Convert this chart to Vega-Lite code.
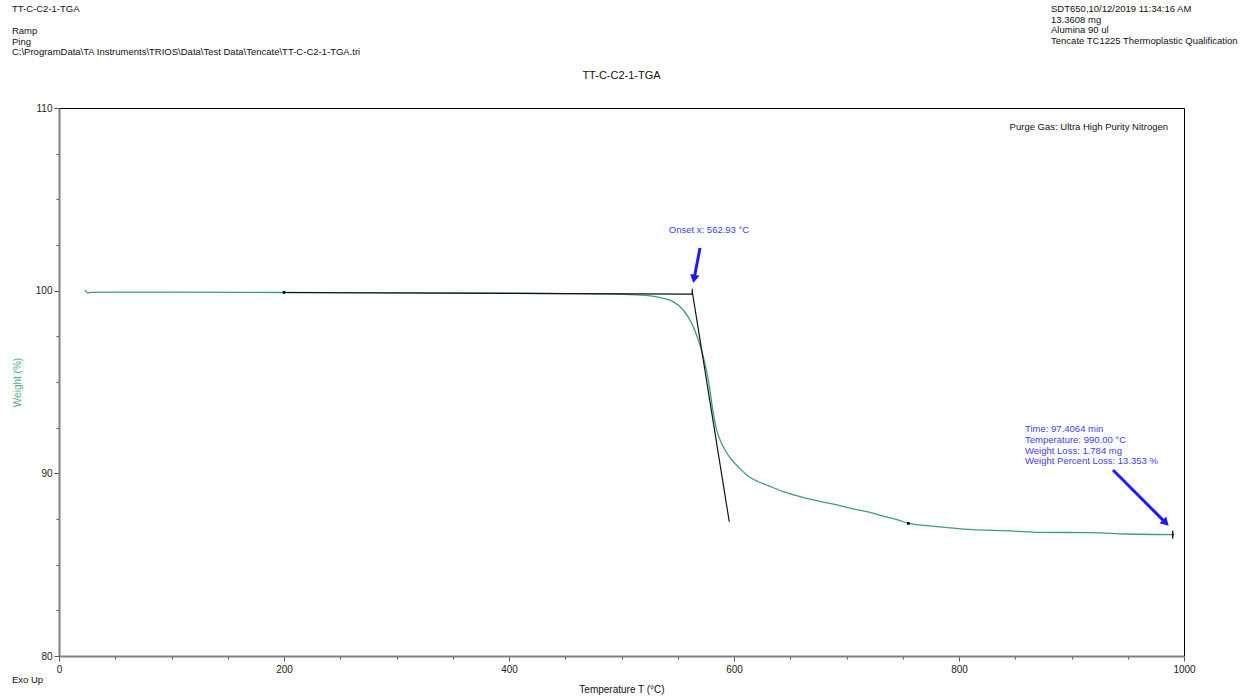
{
  "$schema": "https://vega.github.io/schema/vega-lite/v6.json",
  "width": 1125,
  "height": 548,
  "autosize": {"type": "none"},
  "padding": {"left": 59, "top": 108, "right": 63, "bottom": 42},
  "background": "white",
  "config": {
    "view": {"stroke": "#000000", "strokeWidth": 1},
    "font": "Liberation Sans",
    "text": {"font": "Liberation Sans"}
  },
  "datasets": {
    "curve": [
      {"T": 23.1, "W": 100.04}, {"T": 25.8, "W": 99.87}, {"T": 28.4, "W": 99.91}, {"T": 50, "W": 99.92},
      {"T": 100, "W": 99.92}, {"T": 200, "W": 99.9}, {"T": 300, "W": 99.88}, {"T": 400, "W": 99.86},
      {"T": 450, "W": 99.84}, {"T": 500, "W": 99.8}, {"T": 516.4, "W": 99.76}, {"T": 537.2, "W": 99.58},
      {"T": 545.8, "W": 99.4}, {"T": 554.9, "W": 98.94}, {"T": 562.4, "W": 98.21}, {"T": 568.3, "W": 97.3},
      {"T": 572.7, "W": 96.39}, {"T": 577.2, "W": 95.11}, {"T": 581.6, "W": 93.29}, {"T": 584.6, "W": 92.37},
      {"T": 587.6, "W": 91.83}, {"T": 592.0, "W": 91.28}, {"T": 598.0, "W": 90.73}, {"T": 603.8, "W": 90.36},
      {"T": 611.3, "W": 89.91}, {"T": 621.6, "W": 89.54}, {"T": 629.1, "W": 89.36}, {"T": 643.8, "W": 89.0},
      {"T": 658.7, "W": 88.72}, {"T": 673.5, "W": 88.5}, {"T": 688.3, "W": 88.32}, {"T": 703.1, "W": 88.09},
      {"T": 718.0, "W": 87.9}, {"T": 732.7, "W": 87.66}, {"T": 747.6, "W": 87.41}, {"T": 755.0, "W": 87.26},
      {"T": 774.2, "W": 87.12}, {"T": 803.6, "W": 86.95}, {"T": 848.0, "W": 86.84}, {"T": 872.0, "W": 86.77},
      {"T": 916.4, "W": 86.75}, {"T": 949.1, "W": 86.68}, {"T": 990.0, "W": 86.647}
    ],
    "tangents": [
      {"seg": "baseline", "T": 200, "W": 99.9}, {"seg": "baseline", "T": 562.93, "W": 99.81},
      {"seg": "tangent", "T": 562.93, "W": 99.94}, {"seg": "tangent", "T": 595.8, "W": 87.35},
      {"seg": "tick", "T": 562.93, "W": 99.78}, {"seg": "tick", "T": 562.93, "W": 100.1}
    ],
    "markers": [{"T": 200, "W": 99.9}, {"T": 755.0, "W": 87.26}],
    "endmark": [{"T": 990.0, "W": 86.647}],
    "arrows": [
      {"id": "onset", "T": 569.8, "W": 102.34, "T2": 564.5, "W2": 100.64},
      {"id": "end", "T": 936.9, "W": 90.18, "T2": 983.8, "W2": 87.29}
    ],
    "onsettext": [{"T": 577.8, "W": 103.32, "label": "Onset x: 562.93 °C"}],
    "endtext": [{"T": 858.7, "W": 92.42, "label": "Time: 97.4064 min\nTemperature: 990.00 °C\nWeight Loss: 1.784 mg\nWeight Percent Loss: 13.353 %"}],
    "notes": [
      {"T": -41.8, "W": 115.69, "label": "TT-C-C2-1-TGA"},
      {"T": -41.8, "W": 114.49, "label": "Ramp\nPing\nC:\\ProgramData\\TA Instruments\\TRIOS\\Data\\Test Data\\Tencate\\TT-C-C2-1-TGA.tri"},
      {"T": 881.8, "W": 115.69, "label": "SDT650,10/12/2019 11:34:16 AM\n13.3608 mg\nAlumina 90 ul\nTencate TC1225 Thermoplastic Qualification"}
    ],
    "title": [{"T": 500, "W": 111.75, "label": "TT-C-C2-1-TGA"}],
    "purge": [{"T": 985.8, "W": 108.96, "label": "Purge Gas: Ultra High Purity Nitrogen"}],
    "exo": [{"T": -41.8, "W": 78.69, "label": "Exo Up"}]
  },
  "layer": [
    {
      "data": {"name": "curve"},
      "mark": {"type": "line", "color": "#3aa26e", "strokeWidth": 1.3, "clip": true, "interpolate": "monotone"},
      "encoding": {
        "x": {"field": "T", "type": "quantitative", "scale": {"domain": [0, 1000], "nice": false, "zero": false},
          "axis": {"title": "Temperature  T  (°C)", "titleFont": "Liberation Sans", "titleFontSize": 10, "titleFontWeight": "normal", "titleColor": "#111111", "titlePadding": 10,
            "values": [0, 50, 100, 150, 200, 250, 300, 350, 400, 450, 500, 550, 600, 650, 700, 750, 800, 850, 900, 950, 1000],
            "labelExpr": "datum.value % 200 === 0 ? datum.label : ''", "format": "d",
            "tickSize": {"condition": {"test": "datum.value % 200 === 0", "value": 5}, "value": 3},
            "labelFont": "Liberation Sans", "labelFontSize": 10, "labelColor": "#222222", "labelPadding": 3,
            "domainColor": "#808080", "domainWidth": 2, "tickColor": "#555555", "grid": false, "labelFlush": false, "labelOverlap": false}},
        "y": {"field": "W", "type": "quantitative", "scale": {"domain": [80, 110], "nice": false, "zero": false},
          "axis": {"title": "Weight (%)", "titleFont": "Liberation Sans", "titleFontSize": 10, "titleFontWeight": "normal", "titleColor": "#4caf80", "titlePadding": 13,
            "values": [80, 82.5, 85, 87.5, 90, 92.5, 95, 97.5, 100, 102.5, 105, 107.5, 110],
            "labelExpr": "datum.value % 10 === 0 ? datum.label : ''", "format": "d",
            "tickSize": {"condition": {"test": "datum.value % 10 === 0", "value": 5}, "value": 3},
            "labelFont": "Liberation Sans", "labelFontSize": 10, "labelColor": "#222222", "labelPadding": 2,
            "domainColor": "#808080", "domainWidth": 2, "tickColor": "#555555", "grid": false, "labelOverlap": false}}
      }
    },
    {
      "data": {"name": "tangents"},
      "mark": {"type": "line", "color": "#111111", "strokeWidth": 1.2},
      "encoding": {
        "x": {"field": "T", "type": "quantitative"},
        "y": {"field": "W", "type": "quantitative"},
        "detail": {"field": "seg"}
      }
    },
    {
      "data": {"name": "markers"},
      "mark": {"type": "point", "shape": "square", "filled": true, "color": "#000000", "size": 7, "opacity": 1},
      "encoding": {
        "x": {"field": "T", "type": "quantitative"},
        "y": {"field": "W", "type": "quantitative"}
      }
    },
    {
      "data": {"name": "endmark"},
      "mark": {"type": "point", "shape": "M0,-1V1M-0.3,0H0.3", "filled": false, "stroke": "#000000", "strokeWidth": 1.3, "size": 60, "opacity": 1},
      "encoding": {
        "x": {"field": "T", "type": "quantitative"},
        "y": {"field": "W", "type": "quantitative"}
      }
    },
    {
      "data": {"name": "arrows"},
      "mark": {"type": "rule", "color": "#1a1aff", "strokeWidth": 3},
      "encoding": {
        "x": {"field": "T", "type": "quantitative"},
        "y": {"field": "W", "type": "quantitative"},
        "x2": {"field": "T2"},
        "y2": {"field": "W2"}
      }
    },
    {
      "data": {"name": "arrows"},
      "transform": [{"filter": "datum.id === 'onset'"}],
      "mark": {"type": "point", "shape": "triangle-down", "filled": true, "color": "#1a1aff", "size": 90, "opacity": 1, "angle": 11},
      "encoding": {
        "x": {"field": "T2", "type": "quantitative"},
        "y": {"field": "W2", "type": "quantitative"}
      }
    },
    {
      "data": {"name": "arrows"},
      "transform": [{"filter": "datum.id === 'end'"}],
      "mark": {"type": "point", "shape": "triangle-down", "filled": true, "color": "#1a1aff", "size": 90, "opacity": 1, "angle": -45},
      "encoding": {
        "x": {"field": "T2", "type": "quantitative"},
        "y": {"field": "W2", "type": "quantitative"}
      }
    },
    {
      "data": {"name": "onsettext"},
      "mark": {"type": "text", "color": "#3c3cff", "fontSize": 9.5, "baseline": "middle", "align": "center"},
      "encoding": {
        "x": {"field": "T", "type": "quantitative"},
        "y": {"field": "W", "type": "quantitative"},
        "text": {"field": "label"}
      }
    },
    {
      "data": {"name": "endtext"},
      "mark": {"type": "text", "color": "#3c3cff", "fontSize": 9.5, "lineBreak": "\n", "lineHeight": 10.7, "baseline": "middle", "align": "left"},
      "encoding": {
        "x": {"field": "T", "type": "quantitative"},
        "y": {"field": "W", "type": "quantitative"},
        "text": {"field": "label"}
      }
    },
    {
      "data": {"name": "notes"},
      "mark": {"type": "text", "color": "#111111", "fontSize": 9.5, "lineBreak": "\n", "lineHeight": 10.7, "baseline": "top", "align": "left", "clip": false},
      "encoding": {
        "x": {"field": "T", "type": "quantitative"},
        "y": {"field": "W", "type": "quantitative"},
        "text": {"field": "label"}
      }
    },
    {
      "data": {"name": "title"},
      "mark": {"type": "text", "color": "#111111", "fontSize": 11, "baseline": "middle", "align": "center"},
      "encoding": {
        "x": {"field": "T", "type": "quantitative"},
        "y": {"field": "W", "type": "quantitative"},
        "text": {"field": "label"}
      }
    },
    {
      "data": {"name": "purge"},
      "mark": {"type": "text", "color": "#111111", "fontSize": 9.5, "baseline": "middle", "align": "right"},
      "encoding": {
        "x": {"field": "T", "type": "quantitative"},
        "y": {"field": "W", "type": "quantitative"},
        "text": {"field": "label"}
      }
    },
    {
      "data": {"name": "exo"},
      "mark": {"type": "text", "color": "#111111", "fontSize": 9.5, "baseline": "middle", "align": "left"},
      "encoding": {
        "x": {"field": "T", "type": "quantitative"},
        "y": {"field": "W", "type": "quantitative"},
        "text": {"field": "label"}
      }
    }
  ]
}
